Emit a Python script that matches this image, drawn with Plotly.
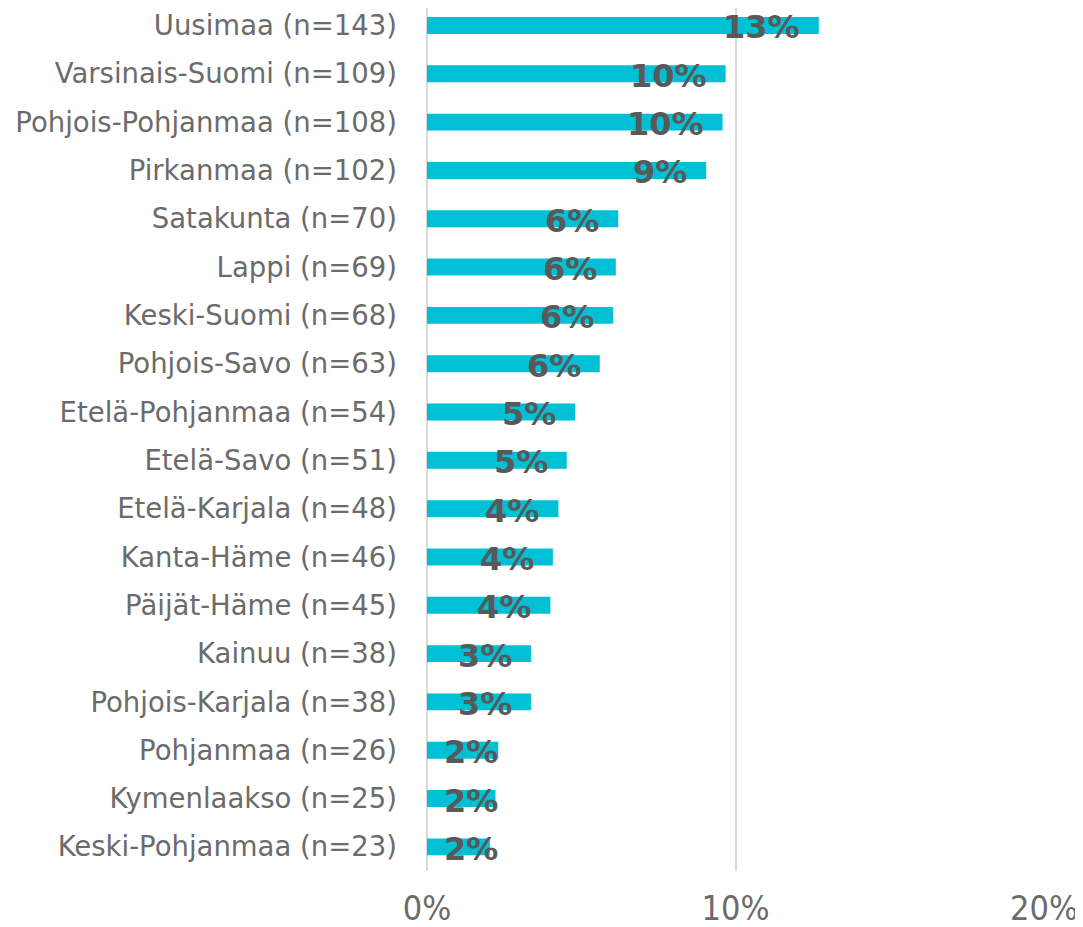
import plotly.graph_objects as go

categories = ["Uusimaa (n=143)", "Varsinais-Suomi (n=109)", "Pohjois-Pohjanmaa (n=108)",
              "Pirkanmaa (n=102)", "Satakunta (n=70)", "Lappi (n=69)", "Keski-Suomi (n=68)",
              "Pohjois-Savo (n=63)", "Etelä-Pohjanmaa (n=54)", "Etelä-Savo (n=51)",
              "Etelä-Karjala (n=48)", "Kanta-Häme (n=46)", "Päijät-Häme (n=45)",
              "Kainuu (n=38)", "Pohjois-Karjala (n=38)", "Pohjanmaa (n=26)",
              "Kymenlaakso (n=25)", "Keski-Pohjanmaa (n=23)"]
values = [12.7, 9.68, 9.58, 9.05, 6.2, 6.12, 6.03, 5.6, 4.8, 4.53, 4.26, 4.08, 4.0,
          3.37, 3.37, 2.31, 2.22, 2.04]
labels = ["13%", "10%", "10%", "9%", "6%", "6%", "6%", "6%", "5%", "5%", "4%", "4%", "4%",
          "3%", "3%", "2%", "2%", "2%"]
x_ticks = [0, 10, 20]
x_ticktext = ["0%", "10%", "20%"]

fig = go.Figure(go.Bar(
    y=categories, x=values, orientation="h",
    marker=dict(color="#00C0D6", line=dict(width=0)),
    width=0.35, hoverinfo="skip",
))

label_font = dict(family="DejaVu Sans", size=32, color="#595959", weight="bold")
for cat, v, lab in zip(categories, values, labels):
    if v < 3:
        fig.add_annotation(x=0, y=cat, text=lab, showarrow=False, xanchor="left",
                           xshift=15, yshift=-2, font=label_font)
    else:
        fig.add_annotation(x=v, y=cat, text=lab, showarrow=False, xanchor="right",
                           xshift=-17, yshift=-2, font=label_font)

fig.update_layout(
    width=1075, height=919,
    margin=dict(l=419, r=39, t=0, b=56, autoexpand=False),
    plot_bgcolor="white", paper_bgcolor="white",
    showlegend=False,
    xaxis=dict(range=[0, 20], tickvals=x_ticks, ticktext=x_ticktext,
               showgrid=True, gridcolor="#d9d9d9", gridwidth=1.5,
               zeroline=True, zerolinecolor="#d9d9d9", zerolinewidth=1.5,
               showline=False, ticks="", ticklabelstandoff=14,
               tickfont=dict(family="DejaVu Sans Condensed", size=34, color="#6b6b6b")),
    yaxis=dict(range=[17.5, -0.362], showgrid=False, zeroline=False, showline=False,
               ticks="", ticklabelstandoff=29,
               tickfont=dict(family="DejaVu Sans", size=27.5, color="#6b6b6b")),
)

fig.write_html("out.html")
